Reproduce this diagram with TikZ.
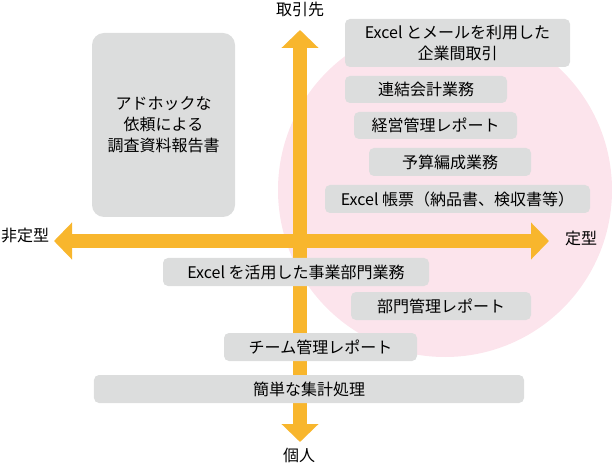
\documentclass[tikz,border=0pt]{standalone}
\usepackage{fontspec}
\setmainfont{Noto Sans CJK JP}
\usetikzlibrary{arrows.meta}
\definecolor{axisorange}{RGB}{248,182,45}
\definecolor{boxgray}{RGB}{220,221,221}
\definecolor{circlepink}{RGB}{252,228,236}
\tikzset{
    %Grey boxes for the kinds of work
    task/.style={fill=boxgray, rounded corners=5bp, inner sep=0pt, align=center,
        font=\fontsize{16bp}{21bp}\selectfont},
    %Thick two headed axis
    axis/.style={draw=axisorange, line width=14bp,
        {Triangle[width=36bp,length=18bp]}-{Triangle[width=36bp,length=18bp]}},
    axislabel/.style={inner sep=0pt, font=\fontsize{16bp}{18bp}\selectfont}
}
\begin{document}
\begin{tikzpicture}[x=1bp,y=-1bp]
    \useasboundingbox (0,0) rectangle (612,467);
    \fill[circlepink] (445,190) circle (167bp);

    \node[axislabel] (partner) at (300,9.5) {取引先};
    \node[axislabel] (person) at (299,455) {個人};
    \node[axislabel] (informal) at (25,236) {非定型};
    \node[axislabel] (formal) at (581,238) {定型};
    \coordinate (ytop) at (300,30);
    \coordinate (ybottom) at (300,442);
    \coordinate (xleft) at (54,241);
    \coordinate (xright) at (549,241);
    \draw[axis] (xleft) -- (xright);
    \draw[axis] (ytop) -- (ybottom);

    \node[task, minimum width=225bp, minimum height=48bp] (mail) at (457.5,43) {Excel とメールを利用した\\企業間取引};
    \node[task, minimum width=162bp, minimum height=27bp] (consol) at (426,89.5) {連結会計業務};
    \node[task, minimum width=163bp, minimum height=27bp] (mgmt) at (435.5,125.5) {経営管理レポート};
    \node[task, minimum width=162bp, minimum height=28bp] (budget) at (450,162) {予算編成業務};
    \node[task, minimum width=265bp, minimum height=28bp] (forms) at (457.5,199) {Excel 帳票（納品書、検収書等）};
    \node[task, rounded corners=12bp, minimum width=143bp, minimum height=184bp] (adhoc) at (163.5,125) {アドホックな\\依頼による\\調査資料報告書};
    \node[task, minimum width=266bp, minimum height=28bp] (division) at (296,272) {Excel を活用した事業部門業務};
    \node[task, minimum width=180bp, minimum height=28bp] (dept) at (441,306) {部門管理レポート};
    \node[task, minimum width=193bp, minimum height=28bp] (team) at (320.5,347) {チーム管理レポート};
    \node[task, minimum width=430bp, minimum height=28bp] (simple) at (309,389) {簡単な集計処理};
\end{tikzpicture}
\end{document}
